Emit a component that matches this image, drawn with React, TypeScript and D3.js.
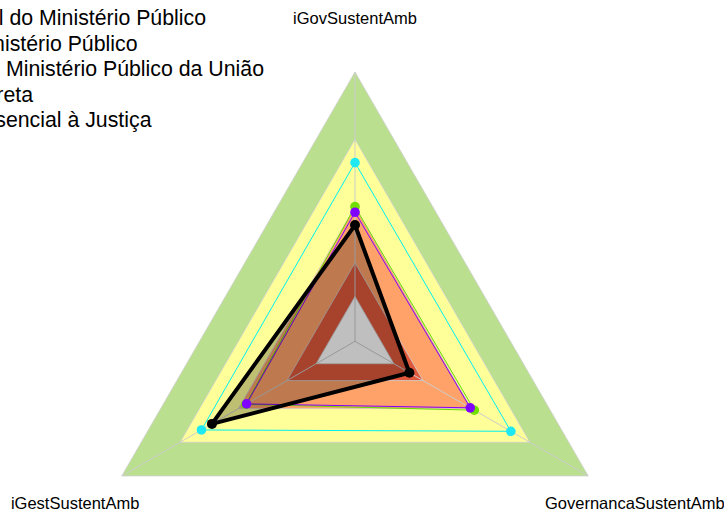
import React from "react";
import * as d3 from "d3";

const W = 724;
const H = 513;

// Axes (clockwise from top)
const axes = ["iGovSustentAmb", "GovernancaSustentAmb", "iGestSustentAmb"];

// Classification bands (value ranges) and their fills
const bandLimits = [-0.2, 0, 0.15, 0.4, 0.7, 1.0];
const bandColors = ["#ffffff", "#df583c", "#ffa26a", "#ffff99", "#badf8e"];

// Legend labels (partly cut off on the left in the reference)
const legendLabels = [
  "Conselho Nacional do Ministério Público",
  "Segmento Ministério Público",
  "Ramos do Ministério Público da União",
  "Administração Direta",
  "Função Essencial à Justiça",
];
const legendRightEdges = [206, 137.5, 264, 33, 151.5];

// Series values per axis [iGov, Governanca, iGest]
const seriesCyan = [0.596, 0.602, 0.59];
const seriesGreen = [0.4, 0.414, 0.362];
const seriesPurple = [0.375, 0.393, 0.358];
const seriesBlack = [0.318, 0.08, 0.536];

const series = [
  { values: seriesCyan, color: "#00f0f0", dot: "#1ee8f2", width: 1, r: 4.8, fill: "none", fillOpacity: 0 },
  { values: seriesGreen, color: "#66dd00", dot: "#70e000", width: 1, r: 4.8, fill: "none", fillOpacity: 0 },
  { values: seriesPurple, color: "#8000ff", dot: "#8000ff", width: 1, r: 4.8, fill: "none", fillOpacity: 0 },
  { values: seriesBlack, color: "#000000", dot: "#000000", width: 4, r: 5, fill: "#000000", fillOpacity: 0.25 },
];

const cx = 355;
const cy = 341.3;
const R = 269.3;

export default function App() {
  const rScale = d3.scaleLinear().domain([-0.2, 1]).range([0, R]);
  const angle = (i: number) => (i * 2 * Math.PI) / axes.length;
  const pt = (i: number, v: number): [number, number] => {
    const r = rScale(v);
    return [cx + r * Math.sin(angle(i)), cy - r * Math.cos(angle(i))];
  };
  const line = d3.line<[number, number]>().curve(d3.curveLinearClosed);
  const ring = (v: number) => line(axes.map((_, i) => pt(i, v))) as string;

  const bands = bandColors
    .map((c, k) => ({ c, outer: bandLimits[k + 1] }))
    .reverse();

  return (
    <svg
      width={W}
      height={H}
      style={{ position: "fixed", left: 0, top: 0, background: "#fff" }}
      fontFamily="'Liberation Sans', Arial, sans-serif"
    >
      {bands.map((b, k) => (
        <path key={k} d={ring(b.outer)} fill={b.c} stroke="#d0d0d0" strokeWidth={1} strokeOpacity={0.8} />
      ))}
      {axes.map((_, i) => {
        const [x, y] = pt(i, 1);
        return <line key={i} x1={cx} y1={cy} x2={x} y2={y} stroke="#cccccc" strokeWidth={1} />;
      })}
      {series.map((s, k) => (
        <path
          key={k}
          d={line(s.values.map((v, i) => pt(i, v))) as string}
          fill={s.fill}
          fillOpacity={s.fillOpacity}
          stroke={s.color}
          strokeWidth={s.width}
          strokeLinejoin="round"
        />
      ))}
      {series.map((s, k) =>
        s.values.map((v, i) => {
          const [x, y] = pt(i, v);
          return <circle key={`${k}-${i}`} cx={x} cy={y} r={s.r} fill={s.dot} />;
        })
      )}
      {axes.map((a, i) => {
        const r = R * 1.2;
        const x = cx + r * Math.sin(angle(i));
        const y = cy - r * Math.cos(angle(i));
        return (
          <text key={a} x={x} y={y} textAnchor="middle" dominantBaseline="central" fontSize={16.5} fill="#000">
            {a}
          </text>
        );
      })}
      {legendLabels.map((l, k) => (
        <text key={l} x={legendRightEdges[k]} y={25 + k * 25.5} textAnchor="end" fontSize={21.3} fill="#000">
          {l}
        </text>
      ))}
    </svg>
  );
}
